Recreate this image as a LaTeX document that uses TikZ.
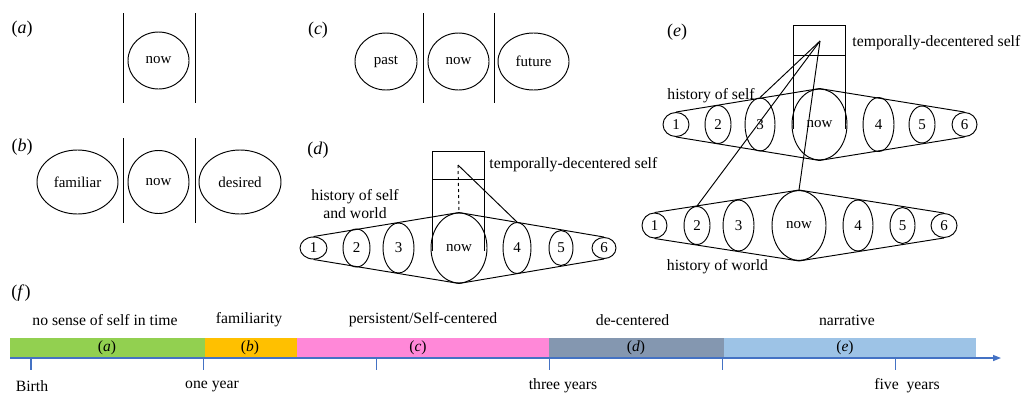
\documentclass[tikz,border=0pt]{standalone}
\usepackage{fontspec}
\setmainfont{Liberation Serif}
\usetikzlibrary{shapes.geometric,arrows.meta}
\definecolor{cgreen}{HTML}{92D050}
\definecolor{corange}{HTML}{FFC000}
\definecolor{cpink}{HTML}{FF88D8}
\definecolor{cgray}{HTML}{8497B0}
\definecolor{clblue}{HTML}{9DC3E6}
\definecolor{caxis}{HTML}{4472C4}
\begin{document}
\begin{tikzpicture}[x=1pt,y=-1pt,line width=0.95pt,
  ell/.style={draw, ellipse, inner sep=0pt, font=\fontsize{15}{17}\selectfont},
  lbl/.style={inner sep=0pt, font=\fontsize{15.7}{18.5}\selectfont},
  plbl/.style={inner sep=0pt, font=\fontsize{18}{20}\selectfont},
  barlbl/.style={inner sep=0pt, font=\fontsize{15.5}{17}\selectfont},
  tick/.style={draw=caxis, line width=1pt},
  sep/.style={line width=0.95pt}]
\useasboundingbox (0,0) rectangle (1024,394);

% ---------- (a)
\node[plbl] (la) at (22,29) {(\textit{a})};
\draw[sep] (123,13) -- (123,103);
\draw[sep] (195,13) -- (195,103);
\node[ell, minimum width=61, minimum height=57] (anow) at (158.5,60.5) {now};

% ---------- (b)
\node[plbl] (lb) at (22,147) {(\textit{b})};
\draw[sep] (123,138) -- (123,223);
\draw[sep] (195,138) -- (195,223);
\node[ell, minimum width=81, minimum height=64] (bfam) at (77.5,182) {familiar};
\node[ell, minimum width=61, minimum height=63] (bnow) at (158.5,182) {now};
\node[ell, minimum width=82, minimum height=64] (bdes) at (240,182) {desired};

% ---------- (c)
\node[plbl] (lc) at (318,30) {(\textit{c})};
\draw[sep] (423,13) -- (423,103);
\draw[sep] (494,13) -- (494,103);
\node[ell, minimum width=62, minimum height=57] (cpast) at (386,61.5) {past};
\node[ell, minimum width=61, minimum height=57] (cnow) at (458.5,61.5) {now};
\node[ell, minimum width=71, minimum height=57] (cfut) at (533.5,61.5) {future};

% ---------- (d)
\node[plbl] (ld) at (318,150) {(\textit{d})};
\draw (432,251) -- (432,151) -- (484,151) -- (484,251);
\draw (432,179) -- (484,179);
\coordinate (dp) at (458,165);
\node[ell, minimum width=27, minimum height=22] (d1) at (313.5,248) {1};
\node[ell, minimum width=27, minimum height=38] (d2) at (356.5,248) {2};
\node[ell, minimum width=31, minimum height=50] (d3) at (398.5,248) {3};
\node[ell, minimum width=56, minimum height=70] (dnow) at (459,248) {now};
\node[ell, minimum width=28, minimum height=51] (d4) at (517,248) {4};
\node[ell, minimum width=24, minimum height=35] (d5) at (561,248) {5};
\node[ell, minimum width=24, minimum height=21] (d6) at (604,248) {6};
\draw (d1.north) -- (dnow.north) -- (d6.north);
\draw (d1.south) -- (dnow.south) -- (d6.south);
\draw[dashed] (dp) -- (dnow.north);
\draw (dp) -- (d4.north);
\node[lbl, anchor=west] (dtds) at (489,165) {temporally-decentered self};
\node[lbl, align=center] (dhist) at (355,204) {history of self\\and world};

% ---------- (e)
\node[plbl] (le) at (677,32) {(\textit{e})};
\draw (793,129) -- (793,25) -- (845,25) -- (845,129);
\draw (793,55) -- (845,55);
\coordinate (ep) at (820,41);
\node[ell, minimum width=26, minimum height=24] (e1) at (676,124.5) {1};
\node[ell, minimum width=26, minimum height=38] (e2) at (718,124.5) {2};
\node[ell, minimum width=30, minimum height=53] (e3) at (760,124.5) {3};
\node[ell, minimum width=55, minimum height=71] (enow) at (819.5,124.5) {now};
\node[ell, minimum width=31, minimum height=54] (e4) at (878.5,124.5) {4};
\node[ell, minimum width=26, minimum height=37] (e5) at (922,124.5) {5};
\node[ell, minimum width=25, minimum height=24] (e6) at (964.5,124.5) {6};
\draw (e1.north) -- (enow.north) -- (e6.north);
\draw (e1.south) -- (enow.south) -- (e6.south);

\node[ell, minimum width=25, minimum height=25] (w1) at (654.5,225.5) {1};
\node[ell, minimum width=26, minimum height=38] (w2) at (697,225.5) {2};
\node[ell, minimum width=31, minimum height=51] (w3) at (738.5,225.5) {3};
\node[ell, minimum width=54, minimum height=70] (wnow) at (799,225.5) {now};
\node[ell, minimum width=30, minimum height=51] (w4) at (858,225.5) {4};
\node[ell, minimum width=25, minimum height=36] (w5) at (902.5,225.5) {5};
\node[ell, minimum width=26, minimum height=24] (w6) at (944,225.5) {6};
\draw (w1.north) -- (wnow.north) -- (w6.north);
\draw (w1.south) -- (wnow.south) -- (w6.south);

\draw (ep) -- (e3.north);
\draw (ep) -- (w2.north);
\draw (ep) -- (wnow.north);
\node[lbl, anchor=west] (etds) at (852,43) {temporally-decentered self};
\node[lbl] (ehs) at (711,96) {history of self};
\node[lbl] (ehw) at (717.5,267) {history of world};

% ---------- (f)
\node[plbl] (lf) at (21,293) {(\textit{f})};
\fill[cgreen] (10,338) rectangle (205,358);
\fill[corange] (205,338) rectangle (297,358);
\fill[cpink] (297,338) rectangle (549,358);
\fill[cgray] (549,338) rectangle (724,358);
\fill[clblue] (724,338) rectangle (976,358);
\coordinate (axs) at (10,358);
\coordinate (axe) at (1001,358);
\draw[caxis, line width=1.4pt, -{Triangle[length=8pt,width=6pt]}] (axs) -- (axe);
\draw[tick, line width=2.2pt] (31,358) -- (31,370);
\foreach \x in {203,376,549,722,895} \draw[tick] (\x,358) -- (\x,370);

\node[lbl] (t1) at (105,320) {no sense of self in time};
\node[lbl] (t2) at (249,320) {familiarity};
\node[lbl] (t3) at (423,320) {persistent/Self-centered};
\node[lbl] (t4) at (632.5,320) {de-centered};
\node[lbl] (t5) at (847,320) {narrative};

\node[barlbl] (ba) at (107,348) {(\textit{a})};
\node[barlbl] (bb) at (250,348) {(\textit{b})};
\node[barlbl] (bc) at (418,348) {(\textit{c})};
\node[barlbl] (bd) at (636,348) {(\textit{d})};
\node[barlbl] (be) at (845,348) {(\textit{e})};

\node[lbl] (y0) at (32,386) {Birth};
\node[lbl] (y1) at (212,386) {one year};
\node[lbl] (y3) at (563,386) {three years};
\node[lbl] (y5) at (907,386) {five\ \ years};
\end{tikzpicture}
\end{document}
